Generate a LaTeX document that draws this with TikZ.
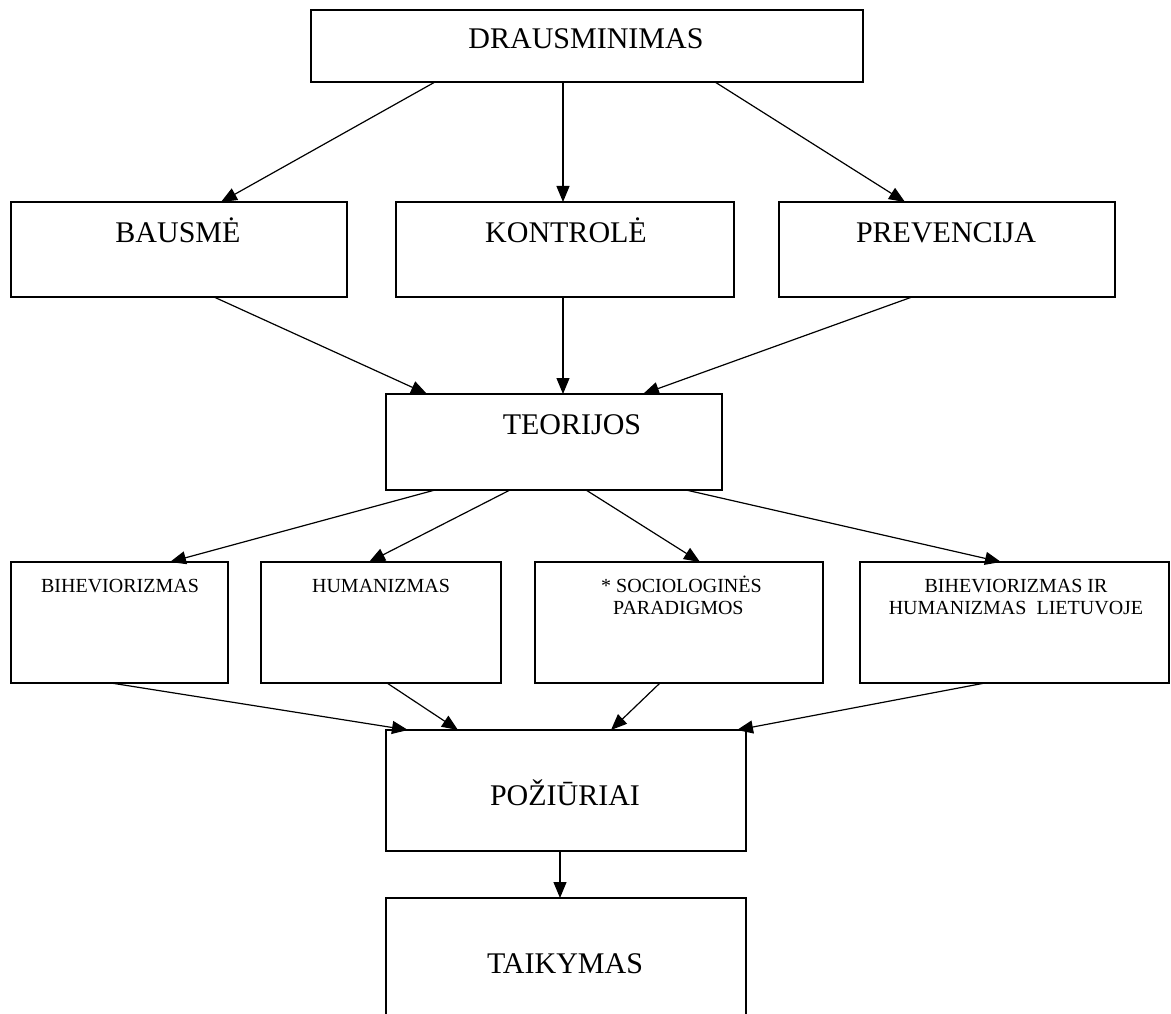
\documentclass[tikz,border=0pt]{standalone}
\usepackage{fontspec}
\setmainfont{Liberation Serif}
\usetikzlibrary{arrows.meta}
\tikzset{
  box/.style={draw=black, line width=1.5pt, fill=white, inner sep=0pt, outer sep=0pt},
  big/.style={font=\fontsize{30}{36}\selectfont, inner sep=0pt, anchor=base},
  small/.style={font=\fontsize{20}{23}\selectfont, inner sep=0pt, anchor=base},
  arr/.style={line width=1.2pt, -{Triangle[length=16pt,width=13pt]}}
}
\begin{document}
\begin{tikzpicture}[x=1pt,y=-1pt]
\useasboundingbox (0,0) rectangle (1171,1014);
\fill[white] (0,0) rectangle (1171,1014);
\clip (0,0) rectangle (1171,1014);
% boxes
\node[box, minimum width=552pt, minimum height=72pt] (drau) at (587,46) {};
\node[box, minimum width=336pt, minimum height=95pt] (baus) at (179,249.5) {};
\node[box, minimum width=338pt, minimum height=95pt] (kont) at (565,249.5) {};
\node[box, minimum width=336pt, minimum height=95pt] (prev) at (947,249.5) {};
\node[box, minimum width=336pt, minimum height=96pt] (teor) at (554,442) {};
\node[box, minimum width=217pt, minimum height=121pt] (bih) at (119.5,622.5) {};
\node[box, minimum width=240pt, minimum height=121pt] (hum) at (381,622.5) {};
\node[box, minimum width=288pt, minimum height=121pt] (soc) at (679,622.5) {};
\node[box, minimum width=309pt, minimum height=121pt] (bihl) at (1014.5,622.5) {};
\node[box, minimum width=360pt, minimum height=121pt] (poz) at (566,790.5) {};
\node[box, minimum width=360pt, minimum height=132pt] (taik) at (566,964) {};
% texts
\node[big] (tdrau) at (586,49) {DRAUSMINIMAS};
\node[big] (tbaus) at (178,242) {BAUSMĖ};
\node[big] (tkont) at (566,242) {KONTROLĖ};
\node[big] (tprev) at (946,242) {PREVENCIJA};
\node[big] (tteor) at (572,434) {TEORIJOS};
\node[small] (tbih) at (120,592) {BIHEVIORIZMAS};
\node[small] (thum) at (381,592) {HUMANIZMAS};
\node[small, anchor=base west] (tsoca) at (601,592) {* SOCIOLOGINĖS};
\node[small, anchor=base west] (tsocb) at (613,614) {PARADIGMOS};
\node[small] (tbihla) at (1016,592) {BIHEVIORIZMAS IR};
\node[small] (tbihlb) at (1016,614) {HUMANIZMAS\ \ LIETUVOJE};
\node[big] (tpoz) at (565,805) {POŽIŪRIAI};
\node[big] (ttaik) at (565,973) {TAIKYMAS};
% connectors
\draw[arr] ([xshift=124pt]drau.south west) -- ([xshift=210pt]baus.north west);
\draw[arr] ([xshift=252pt]drau.south west) -- ([xshift=167pt]kont.north west);
\draw[arr] ([xshift=404pt]drau.south west) -- ([xshift=126pt]prev.north west);
\draw[arr] ([xshift=203pt]baus.south west) -- ([xshift=41pt]teor.north west);
\draw[arr] ([xshift=167pt]kont.south west) -- ([xshift=177pt]teor.north west);
\draw[arr] ([xshift=133pt]prev.south west) -- ([xshift=257pt]teor.north west);
\draw[arr] ([xshift=49pt]teor.south west) -- ([xshift=159pt]bih.north west);
\draw[arr] ([xshift=124pt]teor.south west) -- ([xshift=108pt]hum.north west);
\draw[arr] ([xshift=200pt]teor.south west) -- ([xshift=165pt]soc.north west);
\draw[arr] ([xshift=300pt]teor.south west) -- ([xshift=141pt]bihl.north west);
\draw[arr] ([xshift=100pt]bih.south west) -- ([xshift=22pt]poz.north west);
\draw[arr] ([xshift=126pt]hum.south west) -- ([xshift=72pt]poz.north west);
\draw[arr] ([xshift=125pt]soc.south west) -- ([xshift=225pt]poz.north west);
\draw[arr] ([xshift=125pt]bihl.south west) -- ([xshift=351pt]poz.north west);
\draw[arr] ([xshift=174pt]poz.south west) -- ([xshift=174pt]taik.north west);
\end{tikzpicture}
\end{document}
